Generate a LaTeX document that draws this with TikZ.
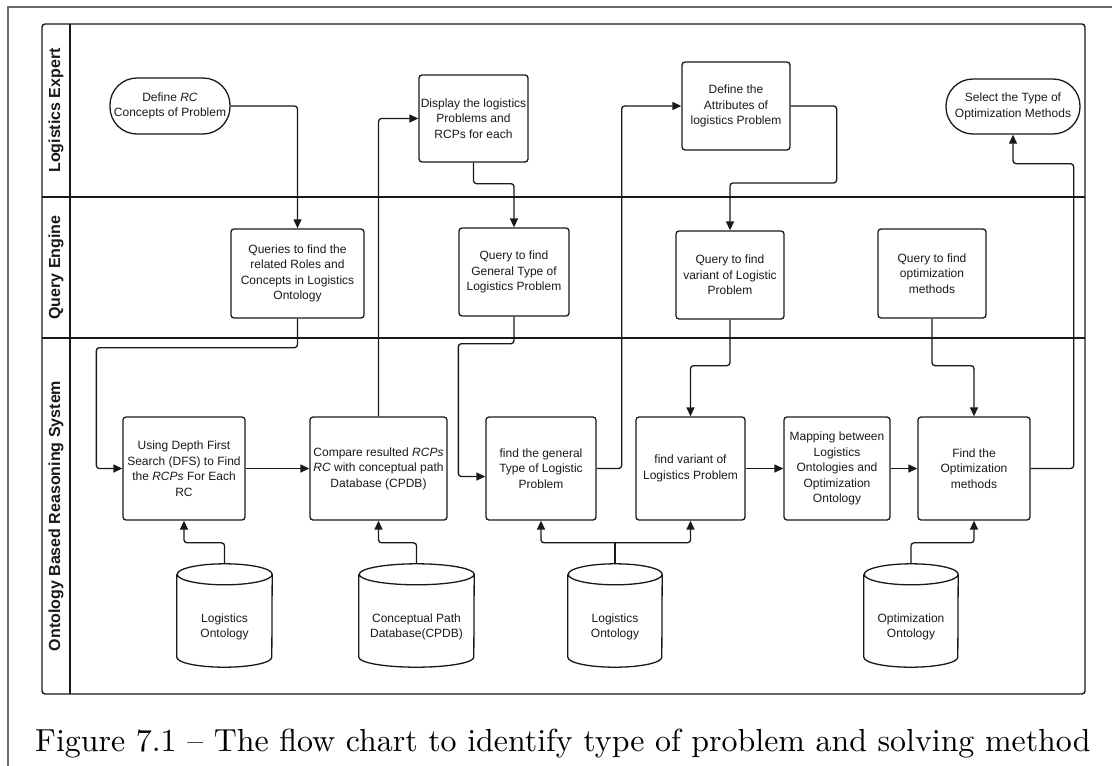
\documentclass[tikz,border=0pt]{standalone}
\usepackage{fontspec}
\setsansfont{Liberation Sans}
\usepackage{graphicx}
\usetikzlibrary{arrows.meta}
\definecolor{ink}{RGB}{25,25,25}
\definecolor{framegray}{RGB}{105,105,105}
\tikzset{
  txt/.style={font=\sffamily\fontsize{12}{15.5}\selectfont, text=ink, align=center},
  box/.style={txt, draw=ink, line width=1.3pt, rounded corners=3pt, inner sep=1pt},
  term/.style={txt, draw=ink, line width=1.3pt, rounded corners=27pt, inner sep=1pt},
  cylnode/.style={draw=none, inner sep=0pt},
  cylline/.style={draw=ink, line width=1.3pt},
  conn/.style={draw=ink, line width=1.3pt, rounded corners=3pt, -{Triangle[length=9pt,width=8pt]}},
  link/.style={draw=ink, line width=1.3pt, rounded corners=3pt},
  lanelabel/.style={font=\sffamily\bfseries\fontsize{16}{19}\selectfont, rotate=90, text=ink},
  lanebox/.style={draw=ink, line width=1.4pt, rounded corners=3pt},
  lanesep/.style={draw=ink, line width=2.2pt},
}
\newcommand{\drawcyl}[2]{%
  \draw[cylline] ([yshift=-10.5pt]#1.north west) -- ([yshift=10pt]#1.south west)
    arc[start angle=180, end angle=360, x radius=#2pt, y radius=10pt]
    -- ([yshift=-10.5pt]#1.north east)
    arc[start angle=0, end angle=180, x radius=#2pt, y radius=10.5pt]
    arc[start angle=180, end angle=360, x radius=#2pt, y radius=10.5pt];
}
\begin{document}
\begin{tikzpicture}[x=1pt, y=-1pt]
\useasboundingbox (0,0) rectangle (1112,766);
% outer frame
\draw[framegray, line width=1.5pt] (8,766) -- (8,7) -- (1112,7);
% swimlanes
\draw[lanebox] (42,24) rectangle (1085,694);
\draw[draw=ink, line width=1.4pt] (70,24) -- (70,694);
\draw[lanesep] (42,197) -- (1085,197);
\draw[lanesep] (42,338) -- (1085,338);
\node[lanelabel] (l1) at (56,110.5) {Logistics Expert};
\node[lanelabel] (l2) at (56,267.5) {Query Engine};
\node[lanelabel] (l3) at (56,516) {Ontology Based Reasoning System};

% lane 1
\node[term, minimum width=120pt, minimum height=56pt] (def) at (170,106) {Define \textit{RC}\\Concepts of Problem};
\node[box, minimum width=109pt, minimum height=87pt] (disp) at (473.5,118.5) {Display the logistics\\Problems and\\RCPs for each};
\node[box, minimum width=108pt, minimum height=88pt] (attr) at (736,106) {Define the\\Attributes of\\logistics Problem};
\node[term, minimum width=134pt, minimum height=55pt] (sel) at (1013,106.5) {Select the Type of\\Optimization Methods};

% lane 2
\node[box, minimum width=133pt, minimum height=89pt] (q1) at (297.5,273.5) {Queries to find the\\related Roles and\\Concepts in Logistics\\Ontology};
\node[box, minimum width=110pt, minimum height=88pt] (q2) at (514,272) {Query to find\\General Type of\\Logistics Problem};
\node[box, minimum width=108pt, minimum height=88pt] (q3) at (730,275) {Query to find\\variant of Logistic\\Problem};
\node[box, minimum width=108pt, minimum height=89pt] (q4) at (932,273.5) {Query to find\\optimization\\methods};

% lane 3
\node[box, minimum width=122pt, minimum height=103pt] (dfs) at (184,468.5) {Using Depth First\\Search (DFS) to Find\\the \textit{RCPs} For Each\\RC};
\node[box, minimum width=137pt, minimum height=103pt] (cmp) at (378.5,468.5) {Compare resulted \textit{RCPs}\\\textit{RC} with conceptual path\\Database (CPDB)};
\node[box, minimum width=110pt, minimum height=103pt] (gen) at (541,468.5) {find the general\\Type of Logistic\\Problem};
\node[box, minimum width=109pt, minimum height=103pt] (var) at (690.5,468.5) {find variant of\\Logistics Problem};
\node[box, minimum width=106pt, minimum height=103pt] (map) at (837,468.5) {Mapping between\\Logistics\\Ontologies and\\Optimization\\Ontology};
\node[box, minimum width=112pt, minimum height=103pt] (fopt) at (974,468.5) {Find the\\Optimization\\methods};

% cylinders
\node[cylnode, minimum width=95pt, minimum height=103pt] (lo1) at (224.5,615.5) {};
\node[cylnode, minimum width=115pt, minimum height=103pt] (cpdb) at (416.5,615.5) {};
\node[cylnode, minimum width=94pt, minimum height=103pt] (lo2) at (615,615.5) {};
\node[cylnode, minimum width=94pt, minimum height=103pt] (oo) at (911,615.5) {};
\drawcyl{lo1}{47.5}
\drawcyl{cpdb}{57.5}
\drawcyl{lo2}{47}
\drawcyl{oo}{47}
\node[txt] (lo1t) at (224.5,627) {Logistics\\Ontology};
\node[txt] (cpdbt) at (416.5,627) {Conceptual Path\\Database(CPDB)};
\node[txt] (lo2t) at (615,627) {Logistics\\Ontology};
\node[txt] (oot) at (911,627) {Optimization\\Ontology};

% connectors
\draw[conn] (def.east) -| (q1.north);
\draw[conn] (q1.south) -- ++(0,29) -| ([xshift=-26pt]dfs.west) -- (dfs.west);
\draw[conn] (dfs.east) -- (cmp.west);
\draw[conn] (cmp.north) |- (disp.west);
\draw[conn] (disp.south) -- ++(0,21) -| (q2.north);
\draw[conn] (q2.south) -- ++(0,27) -| ([xshift=-27pt,yshift=-8pt]gen.west) -- ([yshift=-8pt]gen.west);
\draw[conn] (gen.east) -- ++(25,0) |- (attr.west);
\draw[conn] (attr.east) -- ++(46,0) -- ++(0,77) -| (q3.north);
\draw[conn] (q3.south) -- ++(0,46) -| (var.north);
\draw[conn] (var.east) -- (map.west);
\draw[conn] (map.east) -- (fopt.west);
\draw[conn] (q4.south) -- ++(0,47) -| (fopt.north);
\draw[conn] (fopt.east) -- ++(43,0) |- ([yshift=-29pt]sel.south) -- (sel.south);
\draw[conn] (lo1.north) -- ++(0,-21) -| (dfs.south);
\draw[conn] (cpdb.north) -- ++(0,-21) -| (cmp.south);
\draw[link] (lo2.north) -- ++(0,-21) coordinate (j);
\draw[conn] (j) -| (gen.south);
\draw[conn] (j) -| (var.south);
\draw[conn] (oo.north) -- ++(0,-21) -| (fopt.south);

% caption
\node[anchor=base west, inner sep=0pt, text=black] (cap) at (35,751) {\resizebox{1055pt}{!}{Figure 7.1 -- The flow chart to identify type of problem and solving method}};
\end{tikzpicture}
\end{document}
